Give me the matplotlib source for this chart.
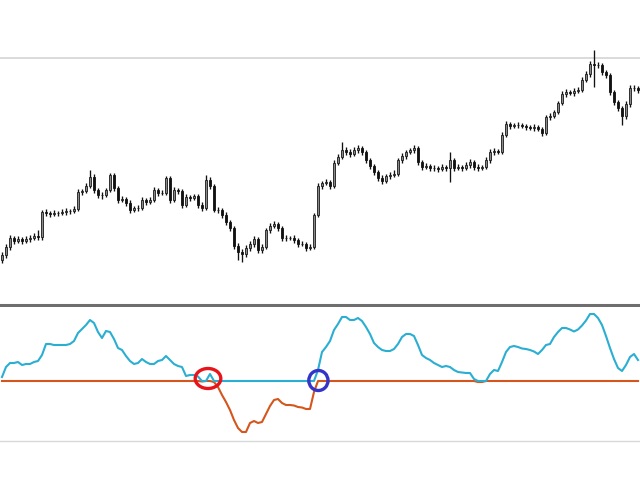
import matplotlib
matplotlib.use("Agg")
import matplotlib.pyplot as plt
from matplotlib.patches import Ellipse
import numpy as np

# ---- price data (arbitrary price units) ----
opens = [40,45,53,62,59,61,59,61,62,64,63,88,87,86,87,87,88,89,89,91,
         108,109,114,123,110,105,105,110,125,112,100,101,97,90,92,92,100,98,100,110,
         107,107,122,100,110,109,95,103,102,104,95,92,120,114,90,90,85,78,72,54,
         48,46,52,56,61,50,53,70,74,76,72,62,62,62,60,56,56,52,53,85,
         114,117,118,114,137,143,150,148,146,150,152,148,140,134,128,122,119,124,125,126,
         140,144,148,150,152,138,133,134,132,132,131,133,132,140,132,133,132,135,138,133,
         132,133,140,148,149,148,165,176,174,175,175,174,173,172,173,171,167,183,184,188,
         197,206,208,207,209,210,220,226,236,235,235,228,225,208,198,192,184,196,212,212]
closes = [45,53,62,59,61,59,61,62,64,63,88,87,86,87,87,88,89,89,91,108,
          109,114,123,110,105,105,110,125,112,100,101,97,90,92,92,100,98,100,110,107,
          107,122,100,110,109,95,103,102,104,95,92,120,114,90,90,85,78,72,54,48,
          46,52,56,61,50,53,70,74,76,72,62,62,62,60,56,56,52,53,85,114,
          117,118,114,137,143,150,148,146,150,152,148,140,134,128,122,119,124,125,126,140,
          144,148,150,152,138,133,134,132,132,131,133,132,140,132,133,132,135,138,133,132,
          133,140,148,149,148,165,176,174,175,175,174,173,172,173,171,167,183,184,188,197,
          206,208,207,209,210,220,226,236,235,235,228,225,208,198,192,184,196,212,212,210]
highs = [48,56,65,64,64,63,64,65,67,70,90,91,89,90,89,91,92,91,94,111,
         111,117,130,126,112,108,112,127,127,114,104,103,100,94,95,103,102,103,113,112,
         110,124,124,113,112,111,106,105,106,106,98,125,123,116,93,92,88,80,74,57,
         51,55,59,64,63,56,72,77,79,78,74,65,64,65,62,59,58,56,87,117,
         119,121,120,140,146,158,153,151,153,155,154,150,142,136,130,125,126,128,130,142,
         147,150,152,155,154,140,137,136,135,134,136,135,148,142,136,135,138,141,140,136,
         135,143,151,152,151,168,179,178,177,178,177,176,175,176,175,173,185,187,190,199,
         209,211,210,212,213,223,229,239,250,238,237,230,227,210,200,194,199,215,215,214]
lows = [37,42,50,56,57,56,57,58,60,60,60,84,83,84,84,85,85,86,87,89,
        105,107,112,107,102,101,103,108,109,97,98,94,87,88,89,90,95,96,98,104,
        105,105,97,98,106,92,93,99,100,92,89,90,111,88,87,82,75,69,51,40,
        38,43,49,53,47,47,51,67,72,69,59,59,60,57,53,54,49,50,51,83,
        111,115,111,112,135,141,145,143,144,147,145,137,131,125,119,116,117,121,123,124,
        137,141,146,147,135,130,131,129,129,128,129,129,118,129,130,129,130,132,130,129,
        130,131,137,145,146,146,163,171,172,172,172,170,170,169,169,164,165,180,182,186,
        195,203,205,204,207,208,218,223,213,232,225,222,205,195,189,175,181,193,209,207]
resistance_level = 242

# ---- oscillator data ----
osc = [4,14,18,18,19,16,17,17,19,20,26,37,37,36,36,36,36,37,40,48,
       52,56,61,58,49,43,50,49,42,33,31,25,20,17,18,22,19,17,17,20,
       21,25,21,17,15,14,5,6,6,4.5,-0.5,0,7,-1,-6,-14,-21,-29,-39,-47,
       -51,-51,-42,-40,-42,-41,-33,-25,-19,-18,-22,-24,-24,-24.5,-26,-26.5,-28,-28,-11,11,
       29,34,40,51,57,64,64,61,61,63,60,54,47,38,34,31,30,30,32,37,
       44,47,47,45,36,26,23,21,18,16,14,15,14,11,9,8.5,8,8,2,-1,
       -1,0,7,11,10,19,29,34,35,34,32.5,32,31,29.5,27,31,36,37,44,49,
       53,53,51.5,49.5,51.5,55.5,60.5,67,67,63,56,45,33,22,13,10,16,24,27,21]
osc_level = -60
signal_bars = [51.5, 79.1]
signal_vals = [2.5, 0.5]
signal_widths = [6.4, 4.8]
signal_colors = ["#e8141c", "#3434c8"]

W, H = 640, 480
fig = plt.figure(figsize=(W / 100, H / 100), dpi=100)
fig.patch.set_facecolor("white")

n = len(closes)
x = np.arange(n)

# ---- top panel: candlesticks ----
ax1 = fig.add_axes([0, 175 / H, 1, 305 / H])
ax1.set_xlim(-0.5, n - 0.5)
ax1.set_ylim(-5, 300)
ax1.axhline(resistance_level, color="#d4d4d4", lw=1.2, zorder=0)
o = np.array(opens, float)
c = np.array(closes, float)
ax1.vlines(x, lows, highs, color="#111111", lw=0.95, zorder=2)
bull = c >= o
ax1.bar(x[bull], (c - o)[bull], bottom=o[bull], width=0.66, color="#8a8a8a",
        edgecolor="#1a1a1a", lw=0.6, zorder=3)
ax1.bar(x[~bull], (c - o)[~bull], bottom=o[~bull], width=0.66, color="#111111",
        edgecolor="#111111", lw=0.6, zorder=3)
for s in ["top", "left", "right"]:
    ax1.spines[s].set_visible(False)
ax1.spines["bottom"].set_color("#6e6e6e")
ax1.spines["bottom"].set_linewidth(2.2)
ax1.set_xticks([])
ax1.set_yticks([])

# ---- bottom panel: oscillator ----
ax2 = fig.add_axes([0, 0, 1, 173 / H])
ax2.set_xlim(-0.5, n - 0.5)
ax2.set_ylim(-99, 74)
v = np.array(osc, float)
ax2.axhline(osc_level, color="#d8d8d8", lw=1.0, zorder=0)
ax2.plot(x, np.minimum(v, 0), color="#d4561c", lw=1.5, zorder=2)
ax2.plot(x, np.maximum(v, 0), color="#2aaed2", lw=1.5, zorder=3)
for xb, yb, wb, col in zip(signal_bars, signal_vals, signal_widths, signal_colors):
    ax2.add_patch(Ellipse((xb, yb), width=wb, height=20, fill=False,
                          edgecolor=col, lw=2.4, zorder=4))
for s in ax2.spines.values():
    s.set_visible(False)
ax2.set_xticks([])
ax2.set_yticks([])

fig.savefig("out.png", dpi=100, facecolor="white")
